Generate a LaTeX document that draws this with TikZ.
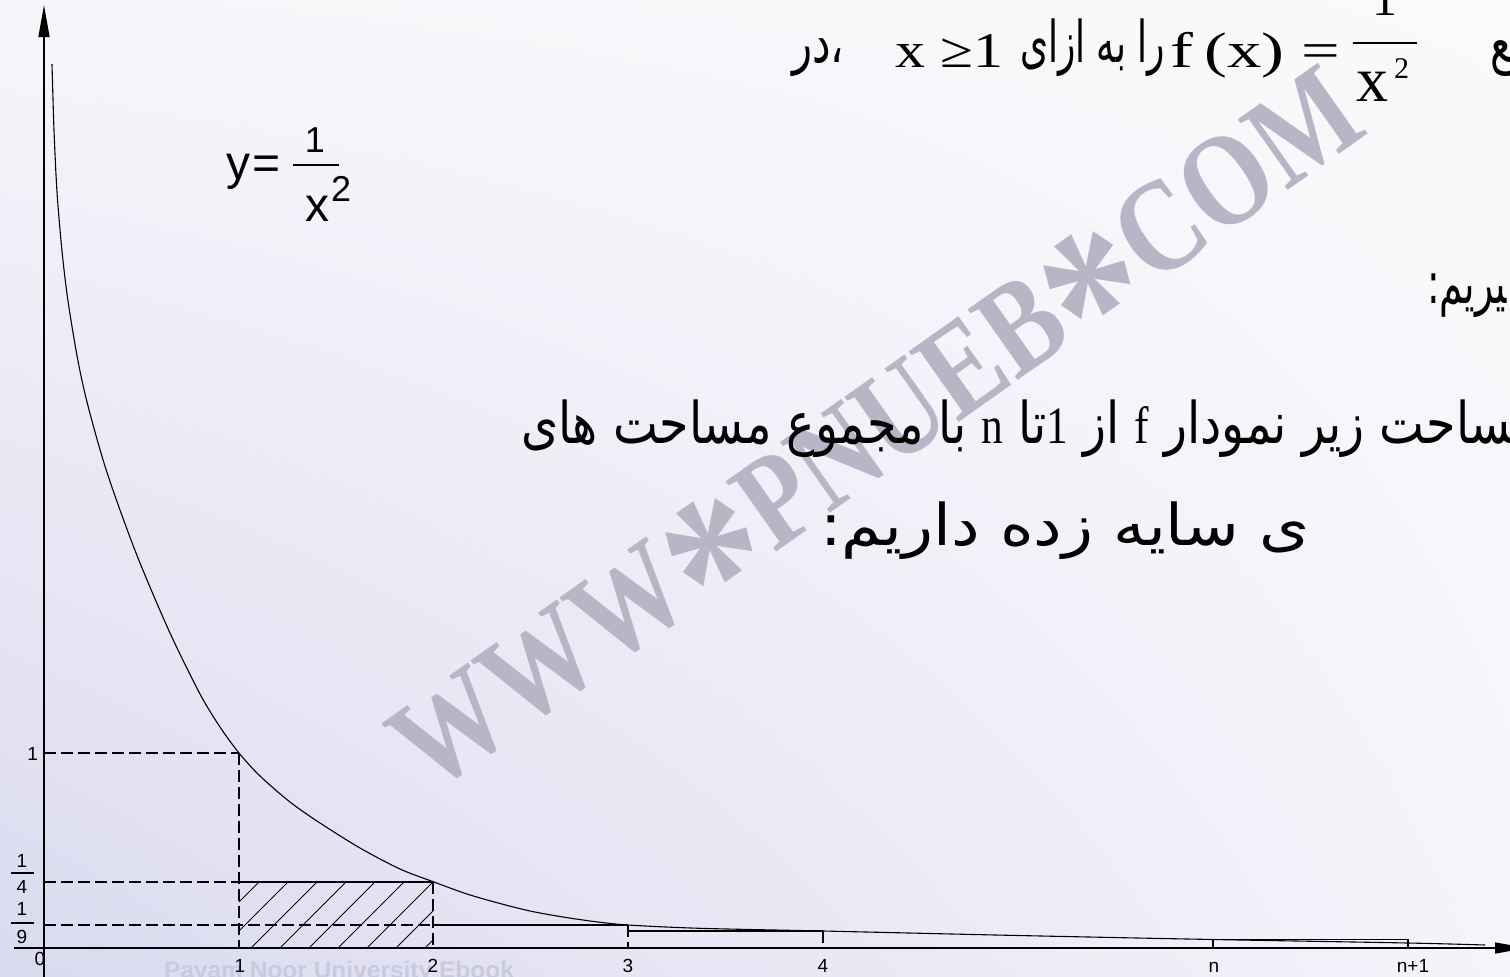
\documentclass[tikz,border=0pt]{standalone}
\usepackage{fontspec}
\usepackage{graphicx}
\setmainfont{Liberation Serif}
\newfontfamily\arabicfont[Script=Arabic]{DejaVu Sans}
\newfontfamily\lsans{Liberation Sans}
\newfontfamily\lserif{Liberation Serif}
\TeXXeTstate=1
\usetikzlibrary{arrows.meta,shadings}
\definecolor{bgLL}{RGB}{218,218,240}
\definecolor{bgLR}{RGB}{244,244,250}
\definecolor{bgUL}{RGB}{246,246,250}
\definecolor{bgUR}{RGB}{250,250,252}
\definecolor{wmgray}{RGB}{182,182,198}
\definecolor{pnu}{RGB}{202,202,222}
\newcommand\fw[2]{\resizebox{#1}{\height}{#2}}
\newcommand\fwt[2]{\resizebox{#1}{1.25\height}{#2}}
\begin{document}
\begin{tikzpicture}[x=1pt,y=-1pt,
  every node/.style={inner sep=0pt,outer sep=0pt},
  ax/.style={line width=1.3pt},
  dsh/.style={line width=1.1pt,dash pattern=on 12pt off 5pt},
  sol/.style={line width=1.1pt},
  crv/.style={line width=1.1pt},
  hatchline/.style={line width=1pt},
  lab/.style={font=\lsans\fontsize{19}{19}\selectfont},
  fa/.style={font=\arabicfont\fontsize{46}{50}\selectfont},
  lat/.style={font=\lserif\fontsize{50}{50}\selectfont},
  eqs/.style={font=\lsans\fontsize{48}{48}\selectfont},
  eqd/.style={font=\lsans\fontsize{36}{36}\selectfont}]
\useasboundingbox (0,0) rectangle (1510,977);
% background
\shade[lower left=bgLL,lower right=bgLR,upper left=bgUL,upper right=bgUR] (0,0) rectangle (1510,977);
% watermark
\node[rotate=35.2,text=wmgray,font=\lserif\bfseries\fontsize{132}{132}\selectfont] (wm) at (892,452)
  {\fw{1150pt}{WWW\raisebox{-0.45em}{\scalebox{1.7}{*}}PNUEB\raisebox{-0.45em}{\scalebox{1.7}{*}}COM}};
\node[anchor=base west,text=pnu,font=\lsans\bfseries\fontsize{24}{24}\selectfont] (pnu) at (164,978)
  {\fw{350pt}{Payam Noor University Ebook}};
% coordinates
\coordinate (O) at (44,948);
\coordinate (ybot) at (44,977);
\coordinate (ytop) at (44,5);
\coordinate (xl) at (14,948);
\coordinate (xr) at (1527,948);
\coordinate (Y1) at (44,753);  \coordinate (P1) at (239,753); \coordinate (X1) at (239,948);
\coordinate (Y4) at (44,882);  \coordinate (Q1) at (239,882); \coordinate (P2) at (433,882); \coordinate (X2) at (433,948);
\coordinate (Y9) at (44,925);  \coordinate (R2) at (433,925); \coordinate (P3) at (628,925); \coordinate (X3) at (628,948);
\coordinate (S3) at (628,931); \coordinate (P4) at (823,931); \coordinate (X4) at (823,948);
\coordinate (Bn) at (1213,939.5); \coordinate (Xn1) at (1408,948);
% hatching
\begin{scope}
  \clip (Q1) rectangle (X2);
  \foreach \k in {-2,...,7}
    \draw[hatchline] ({367-29*\k},948) -- ({433-29*\k},882);
\end{scope}
% dashed guides
\draw[dsh] (Y1) -- (P1);
\draw[dsh] (P1) -- (X1);
\draw[dsh] (Y4) -- (Q1);
\draw[sol] (Q1) -- (P2);
\draw[dsh] (P2) -- (X2);
\draw[dsh] (Y9) -- (R2);
\draw[sol] (R2) -- (P3);
\draw[dsh] (P3) -- (X3);
\draw[sol] (S3) -- (P4);
\draw[dsh] (P4) -- (X4);
\draw[sol] (Bn) rectangle (Xn1);
% axes
\draw[ax,-{Triangle[length=32pt,width=11pt]}] (ybot) -- (ytop);
\draw[ax,-{Triangle[length=32pt,width=11pt]}] (xl) -- (xr);
% curve
\draw[crv] plot[smooth,tension=0.5] coordinates {(52,64) (54,130) (57,192) (62,251) (68,301) (78,361) (88,406) (104,463) (120,510) (140,563) (170,633) (200,694) (220,727) (239,753) (260,776) (290,802) (320,823) (360,848) (400,869) (434,882) (467,894) (500,903.5) (530,911) (560,916.5) (594,921.5) (628,925) (700,928.3) (823,931) (1018,935.5) (1213,939.5) (1408,943) (1485,945)};
% axis labels
\node[lab,anchor=base] (x1) at (240,972) {1};
\node[lab,anchor=base] (x2) at (433,972) {2};
\node[lab,anchor=base] (x3) at (628,972) {3};
\node[lab,anchor=base] (x4) at (823,972) {4};
\node[lab,anchor=base] (xn) at (1214,972) {n};
\node[lab,anchor=base] (xn1) at (1413,972) {n+1};
\node[lab,anchor=base] (y0) at (40,965) {0};
\node[lab,anchor=base east] (y1) at (38,760) {1};
\node[lab,anchor=base] (f4n) at (22,867) {1};
\draw[line width=1.3pt] (11,873) -- (34,873);
\node[lab,anchor=base] (f4d) at (22,893) {4};
\node[lab,anchor=base] (f9n) at (22,915) {1};
\draw[line width=1.3pt] (11,923) -- (34,923);
\node[lab,anchor=base] (f9d) at (22,943) {9};
% y = 1/x^2 label
\node[eqs,anchor=base west] (ey) at (226,179) {y};
\node[eqs,anchor=base west] (eeq) at (252,179) {=};
\node[eqd,anchor=base] (enum) at (315,152) {1};
\draw[line width=2pt] (293,165) -- (339,165);
\node[eqs,anchor=base west] (ex) at (305,221) {x};
\node[eqd,anchor=base west] (e2) at (331,201) {2};
% Persian text, line 1
\node[fa,anchor=base west] (l1a) at (792,62) {\fwt{52pt}{\beginR ،در\endR}};
\node[lat,anchor=base west] (l1b) at (895,67) {\fw{108pt}{x ≥1}};
\node[fa,anchor=base west] (l1c) at (1020,62) {\fwt{145pt}{\beginR را به ازای\endR}};
\node[lat,anchor=base west] (l1d) at (1170,67) {\fw{170pt}{f\,(x) =}};
\node[lat,anchor=base] (l1n) at (1385,15) {1};
\draw[line width=2.5pt] (1353,43) -- (1417,43);
\node[font=\lserif\fontsize{64}{64}\selectfont,anchor=base west] (l1x) at (1356,101) {x};
\node[font=\lserif\fontsize{30}{30}\selectfont,anchor=base west] (l1e) at (1394,78) {2};
\node[fa,anchor=base west] (l1f) at (1490,62) {\fwt{22pt}{\beginR ^^^^200dع\endR}};
% line 2
\node[fa,anchor=base west] (l2) at (1427,303) {\fwt{80pt}{\beginR ^^^^200dیریم:\endR}};
% line 3
\node[fa,anchor=base west] (l3) at (521,443) {\fwt{992pt}{\beginR ^^^^200dساحت زیر نمودار {\lserif\fontsize{42}{42}\selectfont f} از {\lserif\fontsize{42}{42}\selectfont 1}تا {\lserif\fontsize{42}{42}\selectfont n} با مجموع مساحت های\endR}};
% line 4
\node[fa,anchor=base west] (l4) at (820,545) {\fwt{490pt}{\beginR ی سایه زده داریم:\endR}};
\end{tikzpicture}
\end{document}
